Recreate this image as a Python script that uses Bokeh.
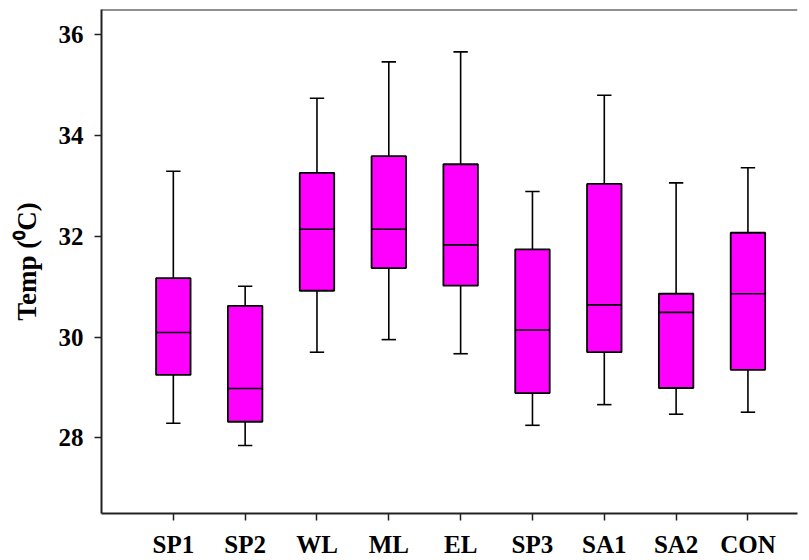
from bokeh.plotting import figure
from bokeh.models import ColumnDataSource, FixedTicker, Range1d, Span
from bokeh.embed import file_html
from bokeh.resources import INLINE

# ---- data ----
categories = ["SP1", "SP2", "WL", "ML", "EL", "SP3", "SA1", "SA2", "CON"]
whisker_low = [28.29, 27.85, 29.70, 29.95, 29.67, 28.25, 28.66, 28.47, 28.51]
q1 = [29.25, 28.32, 30.92, 31.37, 31.02, 28.89, 29.70, 28.99, 29.35]
median = [30.09, 28.98, 32.14, 32.14, 31.83, 30.14, 30.64, 30.49, 30.86]
q3 = [31.17, 30.62, 33.26, 33.59, 33.43, 31.74, 33.04, 30.86, 32.07]
whisker_high = [33.29, 31.01, 34.74, 35.46, 35.66, 32.89, 34.80, 33.06, 33.36]
y_ticks = [28, 30, 32, 34, 36]

FONT = "Liberation Serif"
BOX_W = 0.48
CAP_W = 0.20

xs = list(range(1, len(categories) + 1))
src = ColumnDataSource(dict(
    x=xs,
    x0=[x - BOX_W / 2 for x in xs],
    x1=[x + BOX_W / 2 for x in xs],
    c0=[x - CAP_W / 2 for x in xs],
    c1=[x + CAP_W / 2 for x in xs],
    lo=whisker_low, q1=q1, med=median, q3=q3, hi=whisker_high,
))

p = figure(width=809, height=560, output_backend="svg", toolbar_location=None,
           x_range=Range1d(0, 9.69), y_range=Range1d(26.5, 36.5),
           min_border_left=101, min_border_right=12, min_border_top=9,
           min_border_bottom=47, background_fill_color="white",
           border_fill_color="white")
p.outline_line_color = None
p.outline_line_alpha = 0
p.grid.visible = False

# whiskers and caps
p.segment(x0="x", y0="lo", x1="x", y1="hi", source=src, line_color="black", line_width=1.6)
p.segment(x0="c0", y0="hi", x1="c1", y1="hi", source=src, line_color="black", line_width=1.6)
p.segment(x0="c0", y0="lo", x1="c1", y1="lo", source=src, line_color="black", line_width=1.6)
# boxes
p.vbar(x="x", width=BOX_W, bottom="q1", top="q3", source=src,
       fill_color="#FF00FF", line_color="black", line_width=1.8)
# medians
p.segment(x0="x0", y0="med", x1="x1", y1="med", source=src, line_color="black", line_width=1.6)

# axes
xa = p.xaxis[0]
xa.ticker = FixedTicker(ticks=xs)
xa.major_label_overrides = {x: c for x, c in zip(xs, categories)}
xa.minor_tick_line_color = None

ya = p.yaxis[0]
ya.ticker = FixedTicker(ticks=y_ticks)
ya.minor_tick_line_color = None
ya.axis_label = "Temp (\u2070C)"

for ax in (xa, ya):
    ax.axis_line_color = "#222222"
    ax.axis_line_width = 2
    ax.major_tick_line_color = "#222222"
    ax.major_tick_line_width = 1.5
    ax.major_tick_in = 0
    ax.major_tick_out = 7
    ax.major_label_text_font = FONT
    ax.major_label_text_font_style = "bold"
    ax.major_label_text_font_size = "25px"
    ax.major_label_text_color = "black"
    ax.axis_label_text_font = FONT
    ax.axis_label_text_font_style = "bold"
    ax.axis_label_text_font_size = "27px"
    ax.axis_label_text_color = "black"
xa.major_label_standoff = 10
ya.major_label_standoff = 11
ya.axis_label_standoff = 14

# top frame line
p.add_layout(Span(location=36.5, dimension="width", line_color="#222222", line_width=2))

open("out.html", "w").write(file_html(p, INLINE))
